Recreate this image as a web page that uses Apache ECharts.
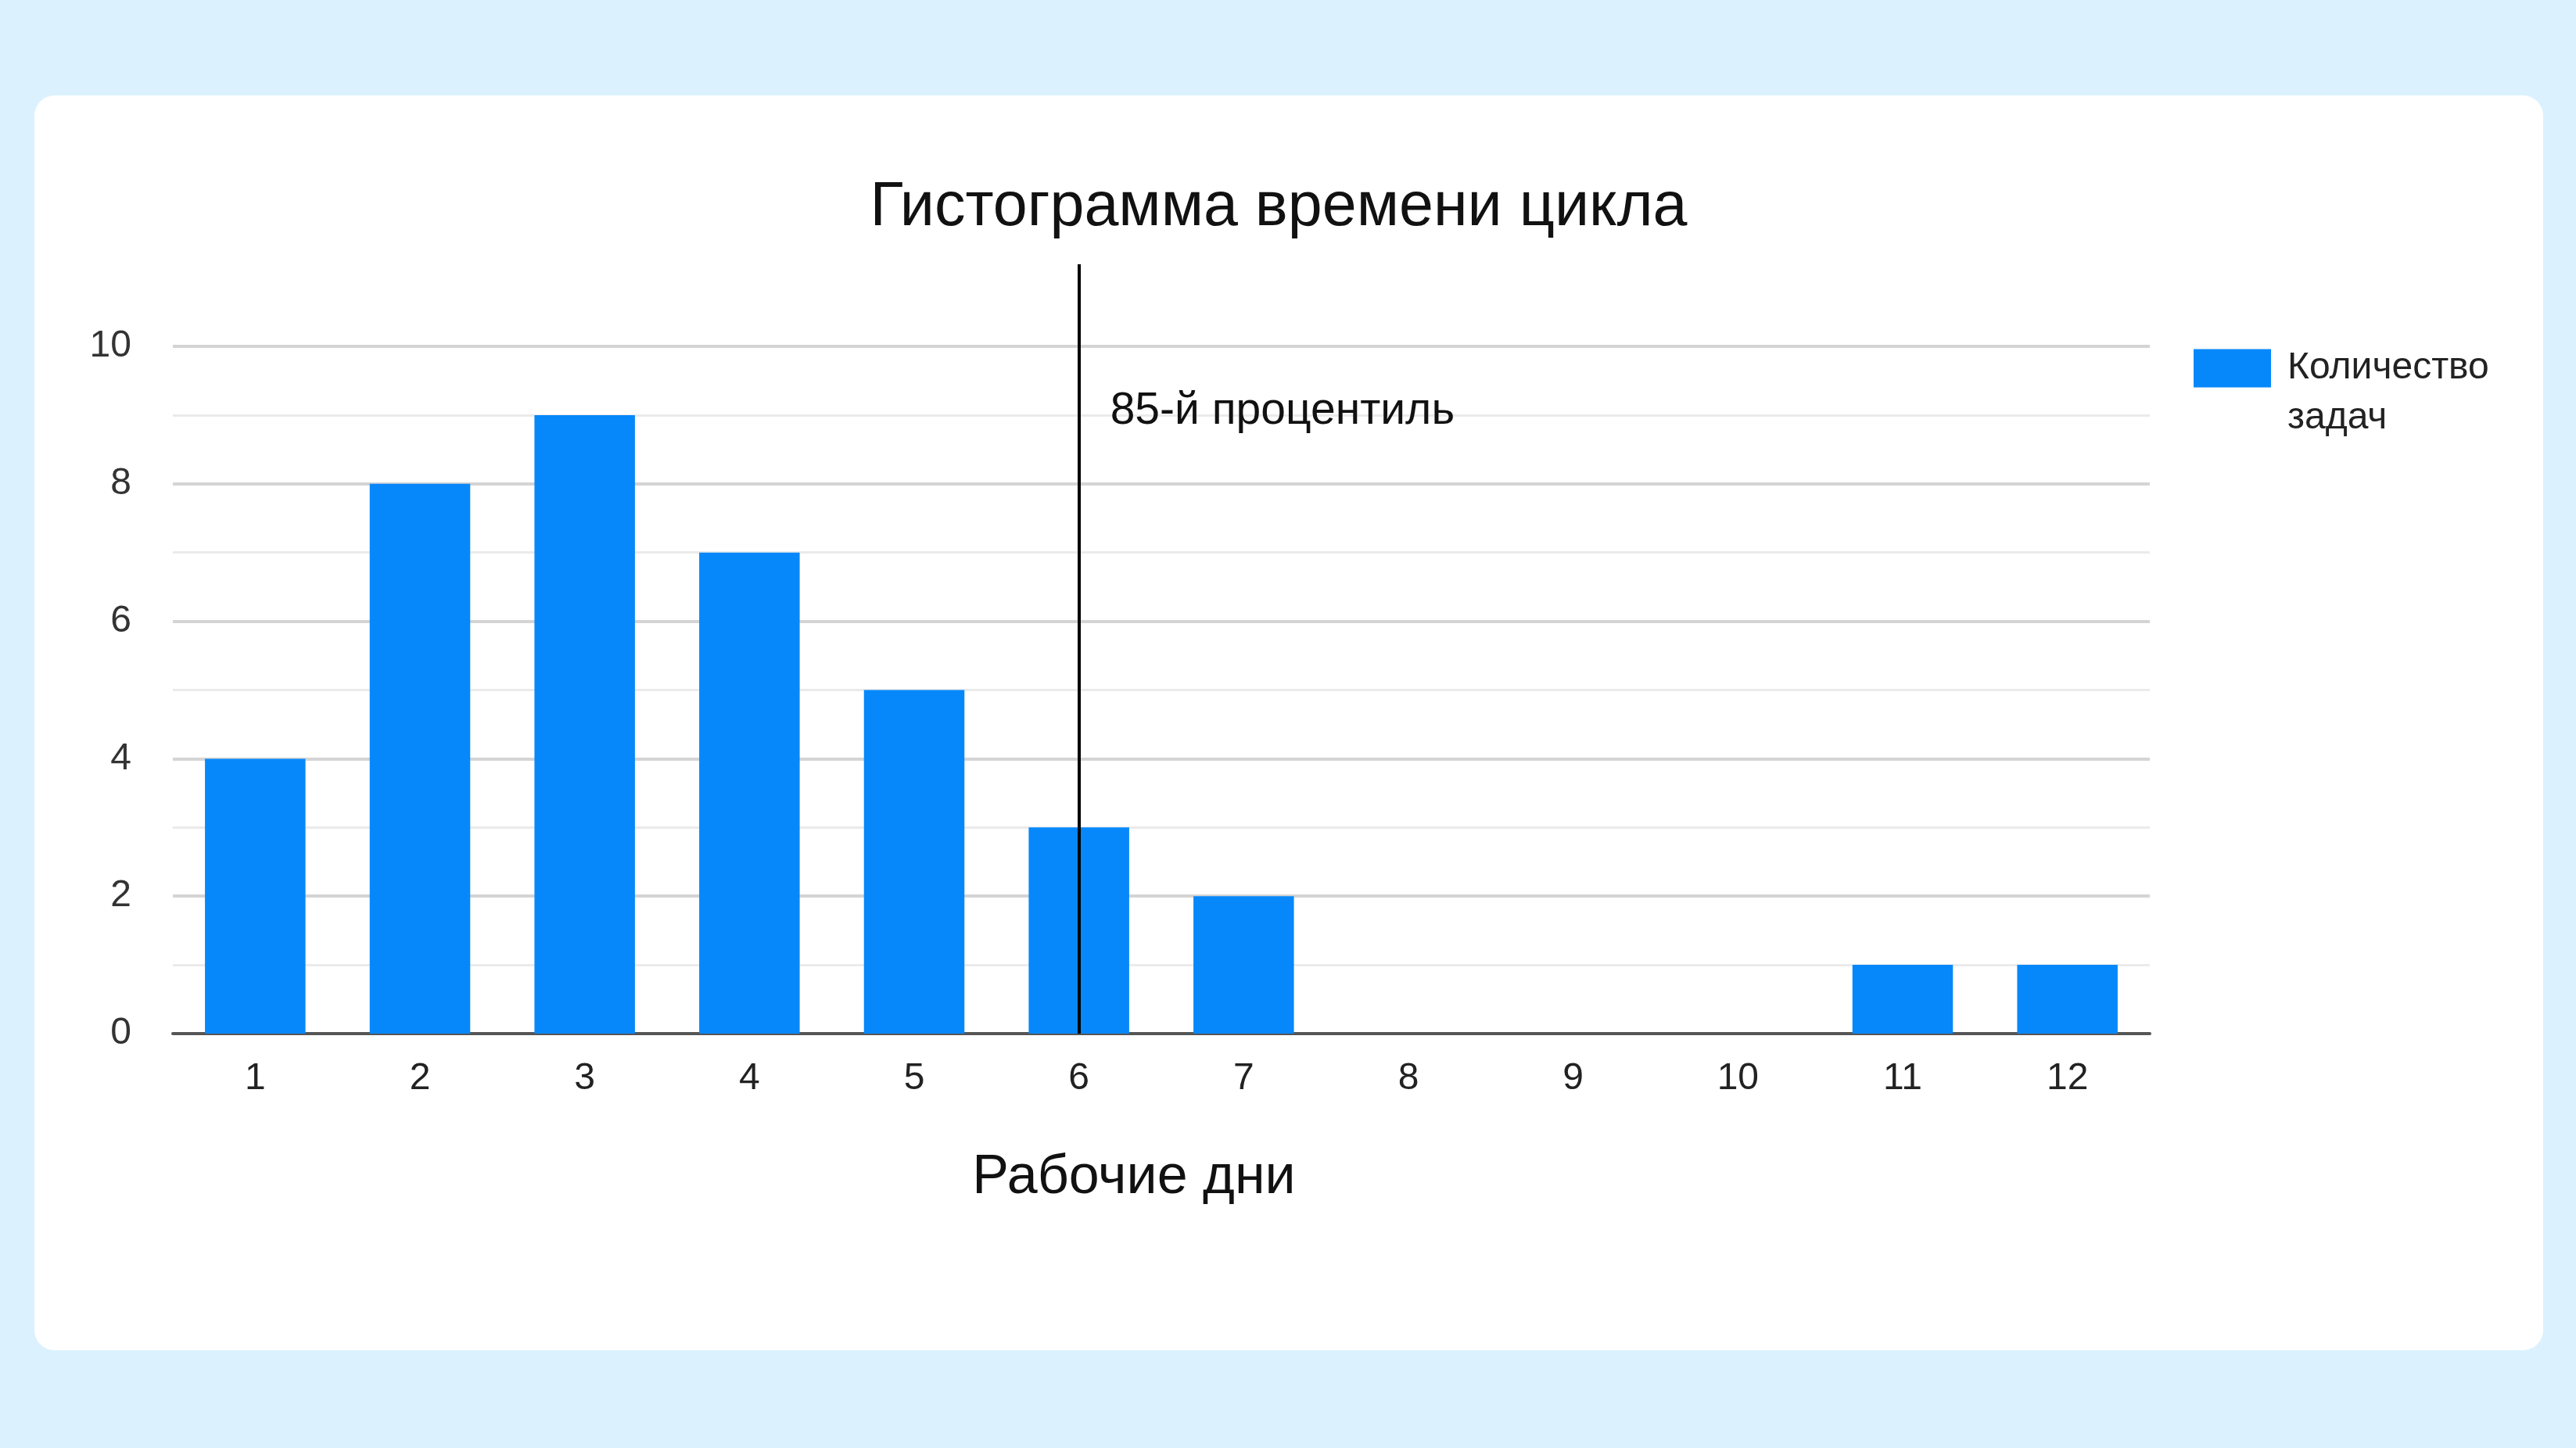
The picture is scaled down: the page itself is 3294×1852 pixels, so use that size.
<!DOCTYPE html>
<html>
<head>
<meta charset="utf-8">
<script src="https://cdn.jsdelivr.net/npm/echarts@6/dist/echarts.min.js"></script>
<style>
  html, body { margin: 0; padding: 0; background: #dbf2fe; }
  .card { position: absolute; left: 44px; top: 122px; width: 3208px; height: 1605px; background: #fff; border-radius: 26px; }
  #chart { position: absolute; left: 0; top: 0; width: 3294px; height: 1852px; }
</style>
</head>
<body>
<div class="card"></div>
<div id="chart"></div>
<script>
const days = ["1", "2", "3", "4", "5", "6", "7", "8", "9", "10", "11", "12"];
const taskCounts = [4, 8, 9, 7, 5, 3, 2, 0, 0, 0, 1, 1];
const percentileDay = "6";
const percentileLabel = "85-й процентиль";
const seriesName = "Количество\nзадач";

const font = "'Liberation Sans', Arial, sans-serif";
const barColor = "#0788fa";
const gridLeft = 221, gridRight = 545, gridBottom = 530;

const chart = echarts.init(document.getElementById("chart"), null, { renderer: "canvas" });

chart.setOption({
  backgroundColor: "transparent",
  animation: false,
  title: {
    text: "Гистограмма времени цикла",
    left: 1630,
    textAlign: "center",
    top: 222,
    textStyle: { color: "#111", fontSize: 79, fontWeight: "normal", fontFamily: font },
  },
  legend: {
    left: 2800,
    top: 370,
    itemWidth: 99,
    itemHeight: 49,
    icon: "rect",
    // leading blank line keeps the first text line level with the swatch
    formatter: (name) => "\n" + name,
    textStyle: { color: "#222", fontSize: 48, fontFamily: font, lineHeight: 64, padding: [0, 0, 0, 16] },
    data: [seriesName],
  },
  grid: [
    { left: gridLeft, right: gridRight, top: 443, bottom: gridBottom },
    { left: gridLeft, right: gridRight, top: 338, bottom: gridBottom },
  ],
  xAxis: [
    {
      type: "category",
      data: days,
      gridIndex: 0,
      name: "Рабочие дни",
      nameLocation: "middle",
      nameGap: 150,
      nameTextStyle: { color: "#111", fontSize: 70, fontFamily: font, padding: [0, 70, 0, 0] },
      axisLine: { lineStyle: { color: "#555", width: 4 } },
      axisTick: { show: false },
      axisLabel: { color: "#222", fontSize: 48, fontFamily: font, margin: 34 },
    },
    { type: "category", data: days, gridIndex: 1, show: false },
  ],
  yAxis: [
    {
      type: "value",
      gridIndex: 0,
      min: 0,
      max: 10,
      interval: 2,
      axisLine: { show: false },
      axisTick: { show: false },
      axisLabel: { color: "#333", fontSize: 48, fontFamily: font, margin: 53 },
      splitLine: { lineStyle: { color: "#d4d4d4", width: 4 } },
      minorTick: { show: false, splitNumber: 2 },
      minorSplitLine: { show: true, lineStyle: { color: "#ebebeb", width: 3 } },
    },
    { type: "value", gridIndex: 1, min: 0, max: 1, show: false },
  ],
  series: [
    {
      name: seriesName,
      type: "bar",
      data: taskCounts,
      barCategoryGap: "39%",
      itemStyle: { color: barColor },
      markPoint: {
        symbol: "circle",
        symbolSize: 0,
        label: {
          show: true,
          position: "right",
          distance: 40,
          formatter: percentileLabel,
          color: "#111",
          fontSize: 57,
          fontFamily: font,
        },
        data: [{ coord: [percentileDay, 9.05] }],
      },
    },
    {
      type: "line",
      xAxisIndex: 1,
      yAxisIndex: 1,
      data: [],
      markLine: {
        symbol: "none",
        silent: true,
        label: { show: false },
        lineStyle: { color: "#000", width: 4, type: "solid" },
        data: [{ xAxis: percentileDay }],
      },
    },
  ],
});

window.addEventListener("resize", () => chart.resize());
</script>
</body>
</html>
